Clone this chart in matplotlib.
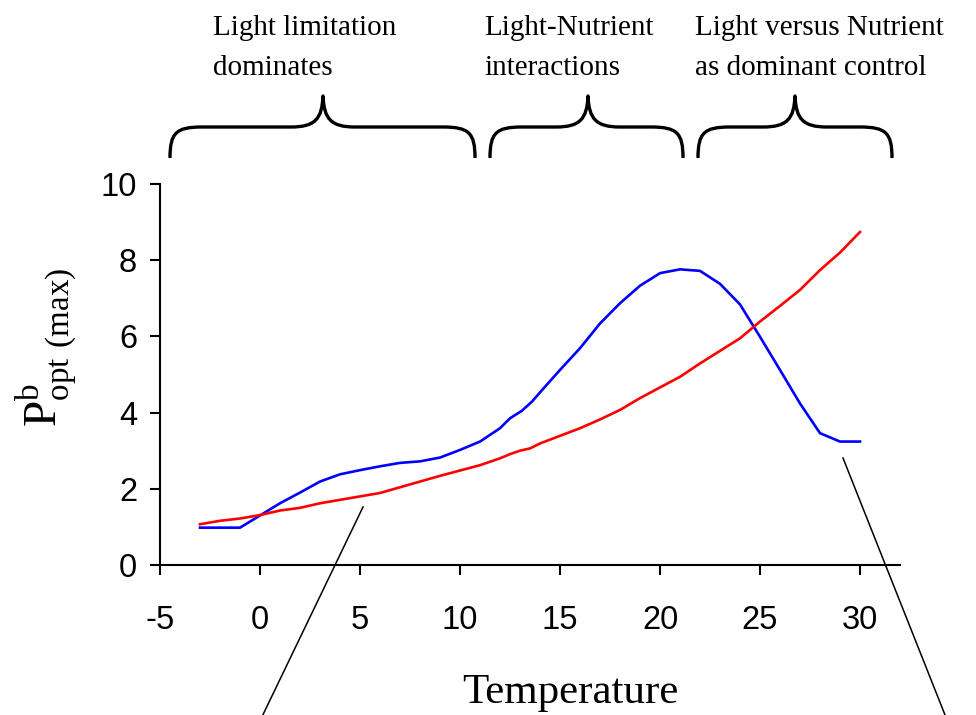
import matplotlib
matplotlib.use("Agg")
import matplotlib.pyplot as plt
from matplotlib.path import Path
from matplotlib.patches import PathPatch

# blue curve
blue_t = [-3, -1, 1, 2, 3, 4, 5, 6, 7, 8, 9, 10, 11, 12, 12.5, 13.1, 13.6, 14.1,
          15, 16, 17, 18, 19, 20, 21, 22, 23, 24, 25, 26, 27, 28, 29, 30]
blue_p = [0.98, 0.98, 1.62, 1.90, 2.19, 2.38, 2.49, 2.59, 2.68, 2.72, 2.82, 3.02,
          3.24, 3.59, 3.85, 4.05, 4.29, 4.59, 5.12, 5.69, 6.34, 6.87, 7.33, 7.66,
          7.76, 7.72, 7.38, 6.84, 5.99, 5.12, 4.24, 3.46, 3.24, 3.24]

# red curve
red_t = [-3, -2, -1, 0, 1, 2, 3, 4, 5, 6, 7, 8, 9, 10, 11, 12, 12.5, 13, 13.5, 14,
         15, 16, 17, 18, 19, 20, 21, 22, 23, 24, 25, 26, 27, 28, 29, 30]
red_p = [1.07, 1.16, 1.22, 1.31, 1.43, 1.50, 1.62, 1.71, 1.80, 1.89, 2.04, 2.19,
         2.34, 2.48, 2.62, 2.80, 2.91, 3.00, 3.06, 3.19, 3.39, 3.59, 3.82, 4.07,
         4.38, 4.66, 4.94, 5.29, 5.62, 5.95, 6.39, 6.80, 7.22, 7.74, 8.20, 8.74]

xticks = [-5, 0, 5, 10, 15, 20, 25, 30]
yticks = [0, 2, 4, 6, 8, 10]

# regime labels (two lines each) and their brace spans in pixels
regimes = [("Light limitation", "dominates"),
           ("Light-Nutrient", "interactions"),
           ("Light versus Nutrient", "as dominant control")]
regime_text_x = [213, 484, 695]
brace_spans = [(170, 323, 475), (490, 588, 683), (698, 795, 892)]

serif = "Liberation Serif"
sans = "Liberation Sans"
plt.rcParams["mathtext.fontset"] = "custom"
plt.rcParams["mathtext.rm"] = serif
plt.rcParams["axes.unicode_minus"] = False

W, H = 976, 715
fig = plt.figure(figsize=(W / 100, H / 100), dpi=100)

# main axes: x=-5 at px 160, y=0 at px 565, 20 px per degree, 38.1 px per unit
ax = fig.add_axes([160 / W, 150 / H, 740 / W, 381 / H])
ax.plot(blue_t, blue_p, color="#0000FF", lw=1.9)
ax.plot(red_t, red_p, color="#FF0000", lw=1.9)
ax.set_xlim(-5, 32)
ax.set_ylim(0, 10)
ax.set_xticks(xticks)
ax.set_yticks(yticks)
for s in ["top", "right"]:
    ax.spines[s].set_visible(False)
for s in ["left", "bottom"]:
    ax.spines[s].set_linewidth(1.5)
ax.tick_params(direction="out", length=7.5, width=1.5, labelsize=23.5, pad=21)
ax.tick_params(axis="y", pad=9)
for lab in ax.get_xticklabels() + ax.get_yticklabels():
    lab.set_fontfamily(sans)

# overlay in pixel coordinates for braces, notes and labels
ov = fig.add_axes([0, 0, 1, 1], zorder=3)
ov.set_xlim(0, W)
ov.set_ylim(H, 0)
ov.axis("off")
ov.patch.set_alpha(0)

yb, ybar, ytip = 158, 127, 96
for x0, xm, x1 in brace_spans:
    r = 32
    verts = [(x0, yb), (x0, ybar + 6), (x0 + 6, ybar), (x0 + r, ybar),
             (xm - r, ybar),
             (xm - 8, ybar), (xm - 1, ybar - 8), (xm, ytip),
             (xm + 1, ybar - 8), (xm + 8, ybar), (xm + r, ybar),
             (x1 - r, ybar),
             (x1 - 6, ybar), (x1, ybar + 6), (x1, yb)]
    codes = [Path.MOVETO, Path.CURVE4, Path.CURVE4, Path.CURVE4,
             Path.LINETO,
             Path.CURVE4, Path.CURVE4, Path.CURVE4,
             Path.CURVE4, Path.CURVE4, Path.CURVE4,
             Path.LINETO,
             Path.CURVE4, Path.CURVE4, Path.CURVE4]
    ov.add_patch(PathPatch(Path(verts, codes), fill=False, lw=2.4, color="black",
                           capstyle="butt", joinstyle="round"))

for (l1, l2), tx in zip(regimes, regime_text_x):
    ov.text(tx, 35, l1, fontsize=21, family=serif, va="baseline", ha="left")
    ov.text(tx, 75, l2, fontsize=21, family=serif, va="baseline", ha="left")

# callout lines
ov.plot([363, 258], [507, 725], color="black", lw=1.1)
ov.plot([843, 949], [458, 725], color="black", lw=1.1)

ov.text(570, 703, "Temperature", fontsize=31, family=serif, ha="center", va="baseline")
ov.text(47, 347, r"$\mathrm{P}^{\mathrm{b}}_{\mathrm{opt\ (max)}}$", fontsize=34,
        rotation=90, ha="center", va="center")

fig.savefig("out.png", dpi=100)
